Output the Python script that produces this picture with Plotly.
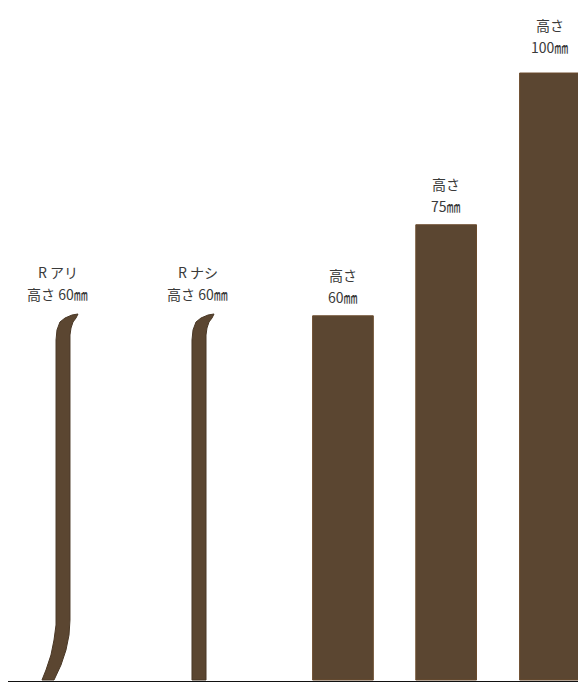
import plotly.graph_objects as go

# baseboard heights (mm)
bar_x = [56.5, 73.5, 90.6]
bar_h = [60, 75, 100]
bar_line1 = ["高さ", "高さ", "高さ"]
bar_line2 = ["60㎜", "75㎜", "100㎜"]

# profile outlines (mm)
r_ari_x = [6.92, 7.58, 8.40, 8.90, 9.23, 9.23, 9.39, 9.88, 10.71, 11.86, 12.85,
           12.52, 12.03, 11.70, 11.53, 11.53, 11.37, 10.87, 10.05, 8.90, 6.92]
r_ari_y = [0, 1.65, 4.12, 6.59, 9.06, 56.01, 57.66, 58.98, 59.64, 60.13, 60.30,
           59.64, 58.98, 57.99, 56.84, 9.88, 7.41, 4.94, 2.47, 0, 0]
r_nashi_x = [31.63, 31.63, 31.80, 32.29, 33.11, 34.27, 35.26,
             34.93, 34.43, 34.10, 33.94, 33.94, 31.63]
r_nashi_y = [0, 56.01, 57.66, 58.98, 59.64, 60.13, 60.30,
             59.64, 58.98, 57.99, 56.84, 0, 0]
prof_label_x = [9.55, 32.6]
prof_h = [60, 60]
prof_line1 = ["R アリ", "R ナシ"]
prof_line2 = ["高さ 60㎜", "高さ 60㎜"]

brown = "#5b4631"

fig = go.Figure()
fig.add_trace(go.Scatter(x=r_ari_x, y=r_ari_y, fill="toself", fillcolor=brown,
                         mode="lines", line=dict(color="#4a3826", width=1), hoverinfo="skip"))
fig.add_trace(go.Scatter(x=r_nashi_x, y=r_nashi_y, fill="toself", fillcolor=brown,
                         mode="lines", line=dict(color="#4a3826", width=1), hoverinfo="skip"))
fig.add_trace(go.Bar(x=bar_x, y=bar_h, width=10, hoverinfo="skip",
                     marker=dict(color=brown, line=dict(color="#6a4a2c", width=1))))

txt_font = dict(family="Noto Sans CJK JP", size=14, color="#3a3a3a")
extra = [0, 0, 7, 3, 3]  # small per-label nudges
labels = list(zip(bar_x + prof_label_x, bar_h + prof_h,
                  bar_line1 + prof_line1, bar_line2 + prof_line2))
for (x, h, a, b), e in zip(labels, extra):
    fig.add_annotation(x=x, y=h, text=a, showarrow=False, yanchor="middle",
                       yshift=41 + e, font=txt_font)
    fig.add_annotation(x=x, y=h, text=b, showarrow=False, yanchor="middle",
                       yshift=19 + e, font=txt_font)

fig.update_layout(
    width=578, height=682,
    margin=dict(l=8, r=0, t=0, b=1),
    paper_bgcolor="white", plot_bgcolor="white",
    showlegend=False,
    xaxis=dict(range=[1.32, 95.22], showgrid=False, zeroline=False, showticklabels=False,
               showline=True, linecolor="#111", linewidth=2, fixedrange=True),
    yaxis=dict(range=[-0.165, 112.03], showgrid=False, zeroline=False, showticklabels=False,
               showline=False, fixedrange=True),
)

fig.write_html("out.html", config={"displayModeBar": False},
               post_script="document.body.style.margin='0';")
